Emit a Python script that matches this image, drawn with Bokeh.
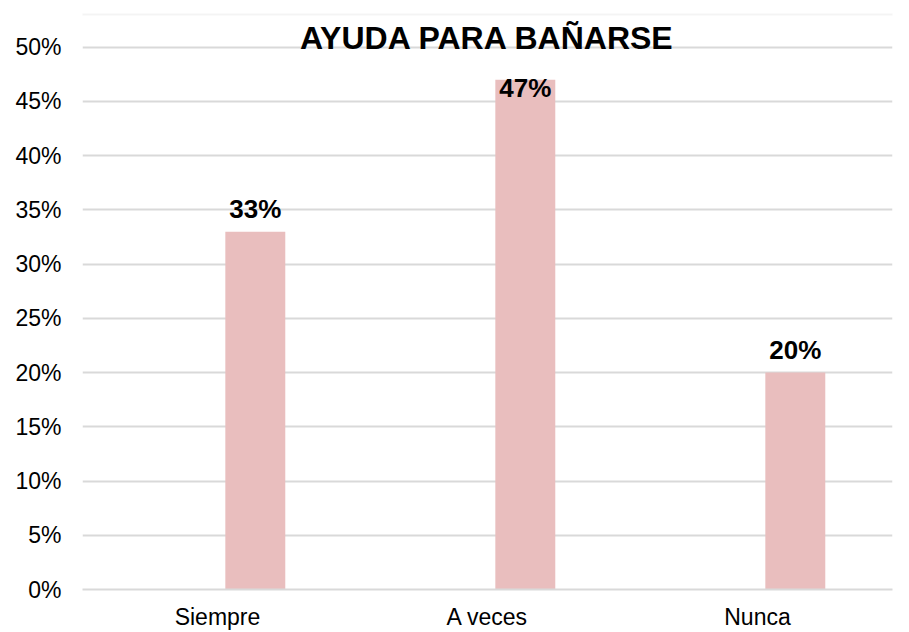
from bokeh.plotting import figure
from bokeh.models import (ColumnDataSource, NumeralTickFormatter, FixedTicker, LabelSet,
                          Label, Range1d, BoxAnnotation)
from bokeh.transform import dodge
from bokeh.core.properties import value
from bokeh.embed import file_html
from bokeh.resources import INLINE

categories = ["Siempre", "A veces", "Nunca"]
values = [0.33, 0.47, 0.20]
value_labels = ["33%", "47%", "20%"]
title_text = "AYUDA PARA BAÑARSE"
y_ticks = [0, 0.05, 0.10, 0.15, 0.20, 0.25, 0.30, 0.35, 0.40, 0.45, 0.50]

FONT = "Liberation Sans"

# layout (pixels)
W, H = 909, 632
TOP_PX, FRAME_BOTTOM_PX, FIFTY_PX = 2, 592, 47
y_end = 0.5 * (FRAME_BOTTOM_PX - TOP_PX) / (FRAME_BOTTOM_PX - FIFTY_PX)

offsets = [14 if v <= 0.45 else -17 for v in values]
src = ColumnDataSource(dict(cat=categories, val=values, lab=value_labels, off=offsets))

p = figure(x_range=categories, y_range=Range1d(0, y_end), width=W, height=H,
           output_backend="svg", toolbar_location=None,
           min_border_left=82, min_border_right=17, min_border_top=TOP_PX,
           min_border_bottom=H - FRAME_BOTTOM_PX)
p.outline_line_color = None
p.background_fill_color = "white"
p.border_fill_color = "white"

# chart area border
border = BoxAnnotation(left=8, right=2000, top=14, bottom=2000,
                       left_units="canvas", right_units="canvas",
                       top_units="canvas", bottom_units="canvas",
                       fill_color=None, line_color="#d9d9d9", line_width=2,
                       level="overlay")
p.add_layout(border)

p.vbar(x=dodge("cat", 0.14, range=p.x_range), top="val", width=0.222, bottom=0,
       source=src, fill_color="#e9bebe", line_color=None)

labels = LabelSet(x=dodge("cat", 0.14, range=p.x_range), y="val", text="lab", y_offset="off",
                  source=src, text_align="center", text_baseline="alphabetic",
                  text_font=value(FONT), text_font_size=value("26px"),
                  text_font_style=value("bold"), text_color=value("black"))
p.add_layout(labels)

title = Label(x=1.5, y=0.5, y_offset=9, text=title_text, text_align="center",
              text_baseline="alphabetic", text_font=FONT, text_font_size="32px",
              text_font_style="bold", text_color="black")
p.add_layout(title)

p.yaxis.ticker = FixedTicker(ticks=y_ticks)
p.yaxis.formatter = NumeralTickFormatter(format="0%")
p.yaxis.axis_line_color = None
p.yaxis.major_tick_line_color = None
p.yaxis.minor_tick_line_color = None
p.yaxis.major_tick_out = 0
p.yaxis.major_tick_in = 0
p.yaxis.major_label_standoff = 21
p.yaxis.major_label_text_font = FONT
p.yaxis.major_label_text_font_size = "23px"
p.yaxis.major_label_text_color = "black"

p.xaxis.axis_line_color = "#d9d9d9"
p.xaxis.axis_line_width = 2
p.xaxis.major_tick_line_color = None
p.xaxis.minor_tick_line_color = None
p.xaxis.major_tick_out = 0
p.xaxis.major_tick_in = 0
p.xaxis.major_label_standoff = 14
p.xaxis.major_label_text_font = FONT
p.xaxis.major_label_text_font_size = "23px"
p.xaxis.major_label_text_color = "black"

p.xgrid.grid_line_color = None
p.ygrid.grid_line_color = "#d9d9d9"
p.ygrid.grid_line_width = 2

open("out.html", "w").write(file_html(p, INLINE))
